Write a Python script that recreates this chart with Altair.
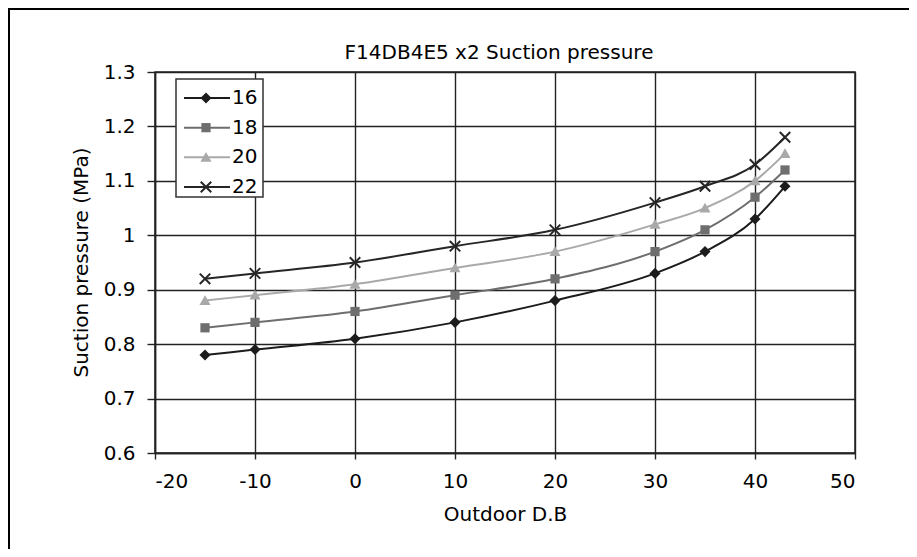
import altair as alt
import pandas as pd

# ---- data ----
outdoor_db = [-15, -10, 0, 10, 20, 30, 35, 40, 43]
series_names = ["16", "18", "20", "22"]
p16 = [0.78, 0.79, 0.81, 0.84, 0.88, 0.93, 0.97, 1.03, 1.09]
p18 = [0.83, 0.84, 0.86, 0.89, 0.92, 0.97, 1.01, 1.07, 1.12]
p20 = [0.88, 0.89, 0.91, 0.94, 0.97, 1.02, 1.05, 1.10, 1.15]
p22 = [0.92, 0.93, 0.95, 0.98, 1.01, 1.06, 1.09, 1.13, 1.18]
x_ticks = [-20, -10, 0, 10, 20, 30, 40, 50]
y_ticks = [0.6, 0.7, 0.8, 0.9, 1.0, 1.1, 1.2, 1.3]
chart_title = "F14DB4E5 x2 Suction pressure"

series_colors = ["#1c1c1c", "#6e6e6e", "#a9a9a9", "#262626"]
diamond_path = "M0,-1.2L1.2,0L0,1.2L-1.2,0Z"
triangle_path = "M0,-1.15L1.2,0.95L-1.2,0.95Z"
x_path = "M-1,-1L1,1M1,-1L-1,1"
series_shapes = [diamond_path, "square", triangle_path, x_path]

rows = []
for name, vals in zip(series_names, [p16, p18, p20, p22]):
    for t, v in zip(outdoor_db, vals):
        rows.append({"series": name, "temp": t, "value": v})
df = pd.DataFrame(rows)
legend_df = pd.DataFrame({"series": series_names})
one = pd.DataFrame({"a": [0]})

FONT = "DejaVu Sans"
FS = 20
W, H = 700, 381

color_scale = alt.Scale(domain=series_names, range=series_colors)
shape_scale = alt.Scale(domain=series_names, range=series_shapes)

x_enc = alt.X(
    "temp:Q",
    scale=alt.Scale(domain=[-20, 50], nice=False, zero=False),
    axis=alt.Axis(
        values=x_ticks, title="Outdoor D.B", labelExpr="'' + datum.value",
        titleX=350, titleY=61, titleAlign="center", titleBaseline="middle",
    ),
)
y_axis = alt.Axis(
    values=y_ticks, title="Suction pressure (MPa)", format=".1~f",
    titleX=-74, titleY=190, titleAlign="center", titleBaseline="middle", titleAngle=270,
)
y_scale = alt.Scale(domain=[0.6, 1.3], nice=False, zero=False)

base = alt.Chart(df)

lines = base.mark_line(interpolate="monotone", strokeWidth=2).encode(
    x=x_enc,
    y=alt.Y("value:Q", scale=y_scale, axis=y_axis),
    color=alt.Color("series:N", scale=color_scale, legend=None),
    detail="series:N",
)

pts_filled = base.transform_filter(alt.datum.series != "22").mark_point(
    filled=True, size=85, opacity=1
).encode(
    x=x_enc,
    y=alt.Y("value:Q", scale=y_scale, axis=None),
    color=alt.Color("series:N", scale=color_scale, legend=None),
    shape=alt.Shape("series:N", scale=shape_scale, legend=None),
)

pts_x = base.transform_filter(alt.datum.series == "22").mark_point(
    filled=False, size=110, opacity=1, strokeWidth=2
).encode(
    x=x_enc,
    y=alt.Y("value:Q", scale=y_scale, axis=None),
    color=alt.Color("series:N", scale=color_scale, legend=None),
    shape=alt.Shape("series:N", scale=shape_scale, legend=None),
)

# ---- manual legend ----
leg_y = alt.Y("series:N", scale=alt.Scale(type="point", domain=series_names, range=[26, 115], padding=0), axis=None)

leg_box = alt.Chart(one).mark_rect(fill="white", stroke="#333333", strokeWidth=1.5).encode(
    x=alt.value(21), x2=alt.value(108), y=alt.value(7), y2=alt.value(125)
)
leg_lines = alt.Chart(legend_df).mark_rule(strokeWidth=2).encode(
    x=alt.value(29), x2=alt.value(75), y=leg_y,
    color=alt.Color("series:N", scale=color_scale, legend=None),
)
leg_pts_filled = alt.Chart(legend_df).transform_filter(alt.datum.series != "22").mark_point(
    filled=True, size=85, opacity=1
).encode(
    x=alt.value(51), y=leg_y,
    color=alt.Color("series:N", scale=color_scale, legend=None),
    shape=alt.Shape("series:N", scale=shape_scale, legend=None),
)
leg_pts_x = alt.Chart(legend_df).transform_filter(alt.datum.series == "22").mark_point(
    filled=False, size=110, opacity=1, strokeWidth=2
).encode(
    x=alt.value(51), y=leg_y,
    color=alt.Color("series:N", scale=color_scale, legend=None),
    shape=alt.Shape("series:N", scale=shape_scale, legend=None),
)
leg_text = alt.Chart(legend_df).mark_text(
    align="left", baseline="middle", font=FONT, fontSize=FS, color="black"
).encode(x=alt.value(77), y=leg_y, text="series:N")

# chart title as a text mark
title_mark = alt.Chart(one).mark_text(
    align="center", baseline="middle", font=FONT, fontSize=FS, color="black"
).encode(x=alt.value(344), y=alt.value(-19), text=alt.value(chart_title))

# outer frame of the picture
frame = alt.Chart(one).mark_rect(fill=None, stroke="black", strokeWidth=2).encode(
    x=alt.value(-146), y=alt.value(-63), x2=alt.value(1000), y2=alt.value(800)
)

chart = alt.layer(
    frame, lines, pts_filled, pts_x, leg_box, leg_lines, leg_pts_filled, leg_pts_x, leg_text, title_mark
).resolve_scale(y="independent").properties(
    width=W,
    height=H,
    autosize=alt.AutoSizeParams(type="none"),
    padding={"left": 147, "top": 64, "right": 54, "bottom": 96},
    background="white",
).configure_view(
    stroke="#222222", strokeWidth=1.5
).configure_axis(
    grid=True, gridColor="#222222", gridWidth=1.4, gridOpacity=1,
    domainColor="#222222", domainWidth=1.5,
    tickColor="#222222", tickWidth=1.4,
    labelFont=FONT, labelFontSize=FS, labelColor="black",
    titleFont=FONT, titleFontSize=FS, titleFontWeight="normal", titleColor="black",
).configure_axisX(
    tickSize=6, labelPadding=12,
).configure_axisY(
    tickSize=8, labelPadding=12,
)

chart.save("out.html", embed_options={"renderer": "svg", "actions": False})
